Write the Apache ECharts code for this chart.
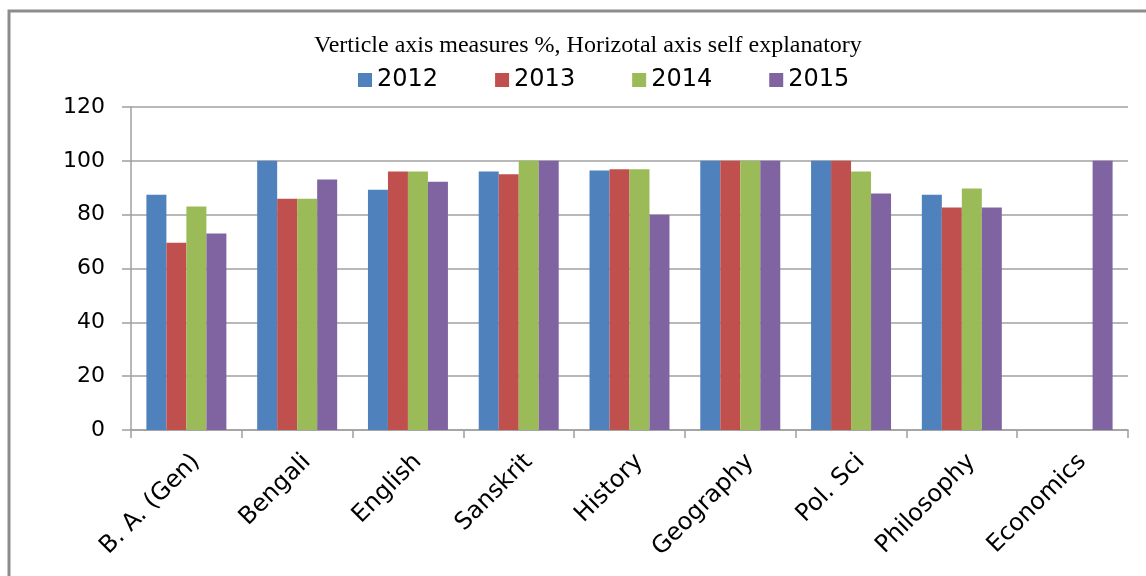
<!DOCTYPE html>
<html>
<head>
	<meta http-equiv="Content-Type" content="text/html; charset=UTF-8">
	<title>Pass percentage by subject</title>
	<script type="text/javascript" src="https://cdn.jsdelivr.net/npm/echarts@6/dist/echarts.min.js"></script>
	<style>
		html, body { margin: 0; padding: 0; background: #fff; }
		#show { width: 1146px; height: 576px; }
	</style>
</head>
<body>
<div id="show"></div>

<script type="text/javascript">
	// data
	var subjects = ['B. A. (Gen)', 'Bengali', 'English', 'Sanskrit', 'History', 'Geography', 'Pol. Sci', 'Philosophy', 'Economics'];
	var years = ['2012', '2013', '2014', '2015'];
	var y2012 = [87.4, 100, 89.3, 96, 96.4, 100, 100, 87.4, null];
	var y2013 = [69.6, 85.9, 96, 95, 96.9, 100, 100, 82.7, null];
	var y2014 = [83, 85.9, 96, 100, 96.9, 100, 96, 89.7, null];
	var y2015 = [73, 93.1, 92.2, 100, 80, 100, 87.9, 82.7, 100];
	var colors = ['#4F81BD', '#C0504D', '#9BBB59', '#8064A2'];

	var myChart = echarts.init(document.getElementById('show'));

	var all = [y2012, y2013, y2014, y2015];
	var series = years.map(function (y, i) {
		return {
			name: y,
			type: 'bar',
			data: all[i],
			barGap: '0%',
			barCategoryGap: '27.8%',
			itemStyle: { color: colors[i] }
		};
	});

	var option = {
		animation: false,
		color: colors,
		title: {
			text: 'Verticle axis measures %, Horizotal axis self explanatory',
			left: 309,
			top: 29,
			textStyle: {
				fontFamily: 'Liberation Serif',
				fontWeight: 'normal',
				fontSize: 24,
				color: '#000'
			}
		},
		legend: {
			data: years,
			top: 63,
			left: 353,
			itemWidth: 14,
			itemHeight: 14,
			itemGap: 57,
			icon: 'rect',
			textStyle: { fontFamily: 'DejaVu Sans', fontSize: 24, color: '#000' }
		},
		grid: { left: 131, right: 18, top: 107, bottom: 146 },
		xAxis: {
			type: 'category',
			data: subjects,
			axisLine: { lineStyle: { color: '#a0a0a0', width: 1.5 } },
			axisTick: { show: true, length: 8, lineStyle: { color: '#a0a0a0', width: 1.5 } },
			axisLabel: {
				rotate: 45,
				interval: 0,
				margin: 38,
				padding: [0, -14, 0, 0],
				fontFamily: 'DejaVu Sans',
				fontSize: 24,
				color: '#000'
			}
		},
		yAxis: {
			type: 'value',
			min: 0,
			max: 120,
			interval: 20,
			axisLine: { show: true, lineStyle: { color: '#a0a0a0', width: 1.5 } },
			axisTick: { show: true, length: 9, lineStyle: { color: '#a0a0a0', width: 1.5 } },
			splitLine: { lineStyle: { color: '#a0a0a0', width: 1.5 } },
			axisLabel: {
				margin: 26,
				fontFamily: 'DejaVu Sans',
				fontSize: 22,
				color: '#000'
			}
		},
		graphic: [{
			type: 'rect',
			shape: { x: 9, y: 11, width: 1300, height: 800 },
			style: { fill: 'none', stroke: '#8c8c8c', lineWidth: 3 },
			silent: true
		}],
		series: series
	};

	myChart.setOption(option);
</script>
</body>
</html>
